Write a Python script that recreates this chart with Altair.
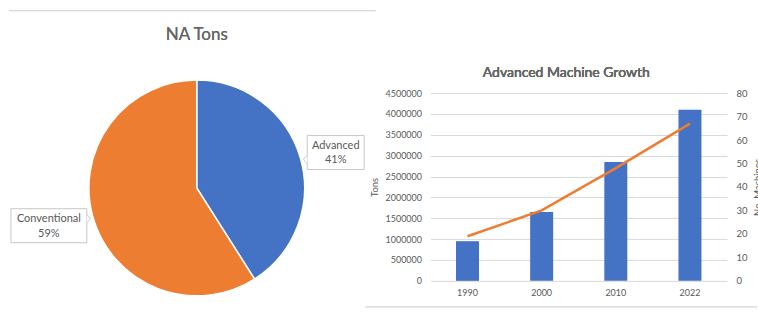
import altair as alt
import pandas as pd
import numpy as np

# ---- data ----
categories = ["Advanced", "Conventional"]
shares = [41, 59]

years = ["1990", "2000", "2010", "2022"]
tons = [950000, 1650000, 2850000, 4100000]
machines = [19, 30, 48, 67]

# ---- style / layout constants ----
FONT = "Lato"
GREY_TXT = "#595959"
TITLE_TXT = "#666666"
BLUE = "#4472C4"
ORANGE = "#ED7D31"
PIE_CX, PIE_CY, PIE_R = 197, 95, 108
LABEL_ROT = 0.033  # radians: label placement rotation
BOX_W = [57, 76]
BOX_H = 34
LEFT_W, LEFT_H = 370, 188
RIGHT_W, RIGHT_H = 297, 188

# ---- pie data + label geometry derived from shares ----
pie = pd.DataFrame({"cat": categories, "share": shares, "idx": range(len(categories))})
frac = np.array(shares, dtype=float) / sum(shares)
mid = (np.cumsum(frac) - frac / 2) * 2 * np.pi + LABEL_ROT
s, c = np.sin(mid), np.cos(mid)
r = PIE_R + 8 + np.array(BOX_W) / 2 * np.abs(s)
bx = PIE_CX + r * s
by = PIE_CY - r * c
pie["bx1"] = bx - np.array(BOX_W) / 2
pie["bx2"] = bx + np.array(BOX_W) / 2
pie["by1"] = by - BOX_H / 2
pie["by2"] = by + BOX_H / 2
pie["bx"] = bx
pie["by"] = by
pie["label"] = [f"{cname}\n{v}%" for cname, v in zip(categories, shares)]
pie["px"] = np.where(s > 0, pie["bx1"], pie["bx2"])
pie["py"] = by + np.where(by < PIE_CY, 7, -7)
pie["shape"] = np.where(s > 0, "M0,-1L-1,0L0,1", "M0,-1L1,0L0,1")

base_pie = alt.Chart(pie)

arc = base_pie.mark_arc(outerRadius=PIE_R, stroke="white", strokeWidth=1.5).encode(
    theta=alt.Theta("share:Q", stack=True),
    order=alt.Order("idx:Q"),
    color=alt.Color("cat:N", scale=alt.Scale(domain=categories, range=[BLUE, ORANGE]), legend=None),
    x=alt.value(PIE_CX),
    y=alt.value(PIE_CY),
)

boxes = base_pie.mark_rect(fill="white", stroke="#C8C8C8", strokeWidth=1).encode(
    x=alt.X("bx1:Q", scale=None), x2="bx2:Q",
    y=alt.Y("by1:Q", scale=None), y2="by2:Q",
)

pointers = base_pie.mark_point(fill="white", stroke="#C8C8C8", strokeWidth=1, opacity=1, size=64).encode(
    x=alt.X("px:Q", scale=None),
    y=alt.Y("py:Q", scale=None),
    shape=alt.Shape("shape:N", scale=None),
)

labels = base_pie.mark_text(font=FONT, fontSize=11, fontWeight=400, color=GREY_TXT, lineBreak="\n",
                            lineHeight=15, baseline="middle", dy=-7).encode(
    x=alt.X("bx:Q", scale=None),
    y=alt.Y("by:Q", scale=None),
    text="label:N",
)

top_rule = alt.Chart(pie).mark_rule(color="#D9D9D9", strokeWidth=1).encode(
    x=alt.value(9), x2=alt.value(376), y=alt.value(-82.5)
)

left_title = alt.Chart(pie).mark_text(font=FONT, fontSize=17, fontWeight=400, color=TITLE_TXT,
                                     baseline="alphabetic", align="center").encode(
    x=alt.value(PIE_CX), y=alt.value(-53), text=alt.value("NA Tons")
)

left = alt.layer(top_rule, left_title, arc, boxes, pointers, labels).properties(
    width=LEFT_W, height=LEFT_H
)

# ---- right combo chart ----
df = pd.DataFrame({"year": years, "tons": tons, "machines": machines})
base = alt.Chart(df)

xenc = alt.X("year:N", title=None, sort=years,
             scale=alt.Scale(paddingInner=0.69, paddingOuter=0.345),
             axis=alt.Axis(labelAngle=0, ticks=False, domain=False, labelPadding=8,
                           labelFont=FONT, labelFontSize=9, labelColor=GREY_TXT))

bars = base.mark_bar(color=BLUE).encode(
    x=xenc,
    y=alt.Y("tons:Q", title="Tons",
            scale=alt.Scale(domain=[0, 4500000], nice=False),
            axis=alt.Axis(values=list(range(0, 4500001, 500000)), format="d",
                          ticks=False, domain=False, gridColor="#D9D9D9",
                          labelPadding=9, labelFont=FONT, labelFontSize=9, labelColor=GREY_TXT,
                          titleFont=FONT, titleFontSize=9.5, titleFontWeight="normal",
                          titleColor=GREY_TXT, titlePadding=5)),
)

line = base.mark_line(color=ORANGE, strokeWidth=2.5).encode(
    x=xenc,
    y=alt.Y("machines:Q", title="No. Machines",
            scale=alt.Scale(domain=[0, 80], nice=False),
            axis=alt.Axis(orient="right", values=list(range(0, 81, 10)), grid=False,
                          ticks=False, domain=False, labelPadding=9,
                          labelFont=FONT, labelFontSize=9.5, labelColor=GREY_TXT,
                          titleFont=FONT, titleFontSize=9.5, titleFontWeight="normal",
                          titleColor=GREY_TXT, titlePadding=5, titleAngle=270,
                          titleBaseline="top")),
)

right_title = base.mark_text(font=FONT, fontSize=14, fontWeight=400, color=TITLE_TXT,
                             baseline="alphabetic", align="center").encode(
    x=alt.value(136), y=alt.value(-16.5), text=alt.value("Advanced Machine Growth")
)

bottom_rule = base.mark_rule(color="#E0E0E0", strokeWidth=1).encode(
    x=alt.value(-65), x2=alt.value(327), y=alt.value(214)
)

right = alt.layer(bottom_rule, right_title, bars, line).resolve_scale(y="independent").properties(
    width=RIGHT_W, height=RIGHT_H
)

chart = alt.hconcat(left, right, spacing=61, bounds="flush").properties(
    padding={"left": 0, "top": 10, "right": -4, "bottom": 8},
    background="white",
).configure_view(stroke=None)

chart.save("out.html", embed_options={"renderer": "svg", "actions": False})
